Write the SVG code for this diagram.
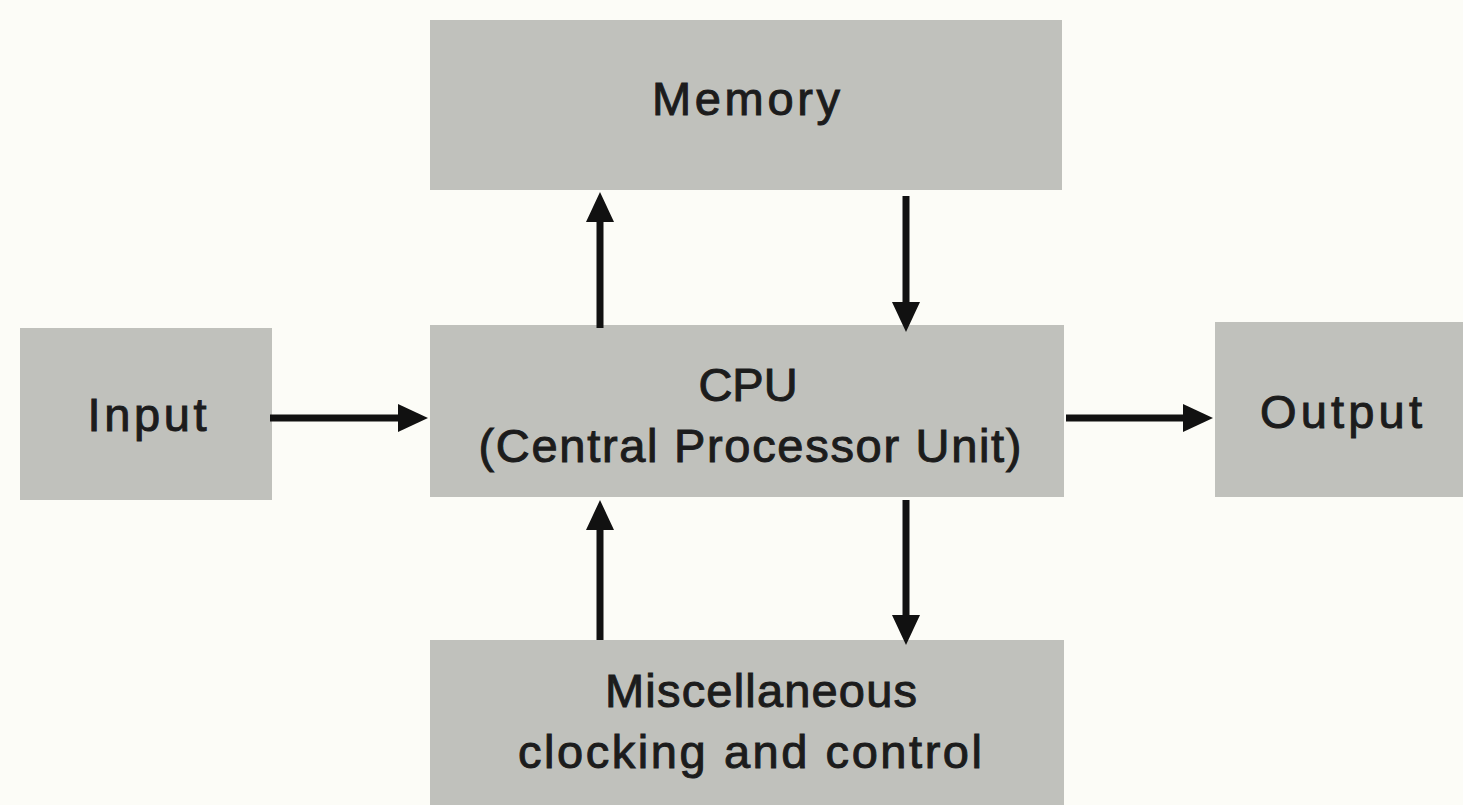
<svg xmlns="http://www.w3.org/2000/svg" width="1463" height="805" viewBox="0 0 1463 805">
  <style>
    .box { fill: #c0c1bc; }
    .label { font-family: "Liberation Sans", Arial, sans-serif; font-size: 47px; fill: #1c1c1c; stroke: #1c1c1c; stroke-width: 1; text-anchor: middle; }
    .wire { stroke: #111; stroke-width: 7; fill: none; marker-end: url(#head); }
  </style>
  <defs>
    <marker id="head" markerUnits="userSpaceOnUse" viewBox="0 0 30 30" markerWidth="30" markerHeight="30" refX="10" refY="15" orient="auto">
      <path d="M0,1 L30,15 L0,29 Z" fill="#111"/>
    </marker>
  </defs>

  <rect width="1463" height="805" fill="#fcfcf7"/>

  <g id="memory">
    <rect class="box" x="430" y="20" width="632" height="170"/>
    <text class="label" x="746" y="115" textLength="188">Memory</text>
  </g>

  <g id="cpu">
    <rect class="box" x="430" y="325" width="634" height="172"/>
    <text class="label" x="748" y="401">CPU</text>
    <text class="label" x="750" y="462" textLength="543">(Central Processor Unit)</text>
  </g>

  <g id="input">
    <rect class="box" x="20" y="328" width="252" height="172"/>
    <text class="label" x="147" y="431" textLength="119">Input</text>
  </g>

  <g id="output">
    <rect class="box" x="1215" y="322" width="248" height="175"/>
    <text class="label" x="1341" y="428" textLength="162">Output</text>
  </g>

  <g id="misc">
    <rect class="box" x="430" y="640" width="634" height="165"/>
    <text class="label" x="761" y="707" textLength="312">Miscellaneous</text>
    <text class="label" x="750" y="768" textLength="464">clocking and control</text>
  </g>

  <g id="connectors">
    <!-- Input to CPU -->
    <line class="wire" x1="270" y1="418" x2="408" y2="418"/>
    <!-- CPU to Output -->
    <line class="wire" x1="1066" y1="418" x2="1193" y2="418"/>
    <!-- CPU to Memory -->
    <line class="wire" x1="600" y1="328" x2="600" y2="212"/>
    <!-- Memory to CPU -->
    <line class="wire" x1="906" y1="196" x2="906" y2="312"/>
    <!-- Misc to CPU -->
    <line class="wire" x1="600" y1="640" x2="600" y2="520"/>
    <!-- CPU to Misc -->
    <line class="wire" x1="906" y1="500" x2="906" y2="625"/>
  </g>
</svg>
